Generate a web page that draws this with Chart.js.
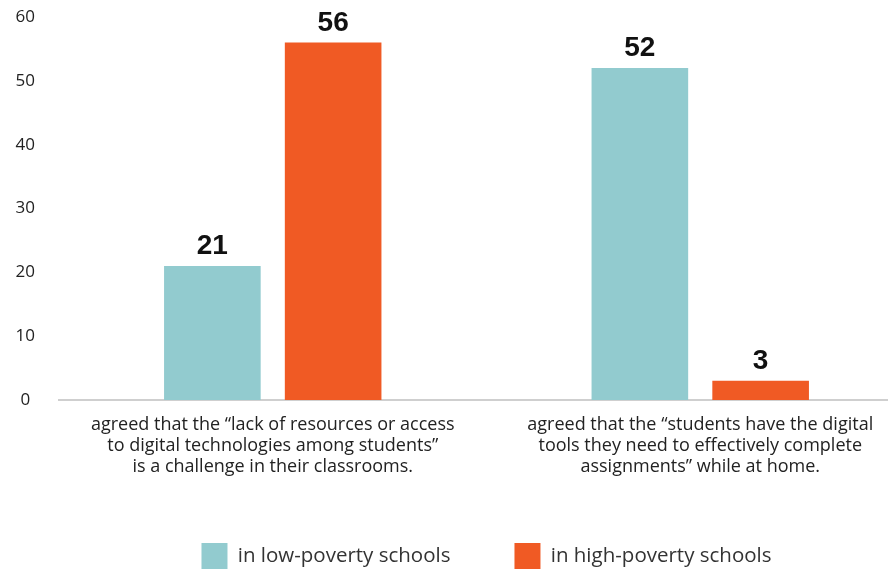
<!DOCTYPE html>
<html>
<head>
<meta charset="utf-8">
<script src="https://cdn.jsdelivr.net/npm/chart.js@4.4.0/dist/chart.umd.min.js"></script>
<style>
  html, body { margin: 0; padding: 0; background: #fff; }
  #wrap { width: 888px; height: 569px; overflow: hidden; position: relative; }
</style>
</head>
<body>
<div id="wrap"><canvas id="chart" width="914" height="579"></canvas></div>
<script>
// categories and values (percent of teachers)
var categories = [
  ['agreed that the \u201clack of resources or access', 'to digital technologies among students\u201d', 'is a challenge in their classrooms.'],
  ['agreed that the \u201cstudents have the digital', 'tools they need to effectively complete', 'assignments\u201d while at home.']
];
var seriesNames = ['in low-poverty schools', 'in high-poverty schools'];
var lowPoverty = [21, 52];
var highPoverty = [56, 3];
var yTicks = [0, 10, 20, 30, 40, 50, 60];

var teal = '#92cbcf';
var orange = '#f05a24';

// draws the bold number above every bar
var barValues = {
  id: 'barValues',
  afterDatasetsDraw: function(chart) {
    var ctx = chart.ctx;
    ctx.save();
    ctx.font = 'bold 28px "Liberation Sans", Arial, sans-serif';
    ctx.fillStyle = '#111';
    ctx.textAlign = 'center';
    ctx.textBaseline = 'alphabetic';
    chart.data.datasets.forEach(function(ds, i) {
      chart.getDatasetMeta(i).data.forEach(function(bar, j) {
        ctx.fillText(ds.data[j], bar.x, bar.y - 12);
      });
    });
    ctx.restore();
  }
};

var ctx = document.getElementById('chart');
var myChart = new Chart(ctx, {
  type: 'bar',
  data: {
    labels: categories,
    datasets: [{
      label: seriesNames[0],
      data: lowPoverty,
      backgroundColor: teal,
      barPercentage: 0.8,
      categoryPercentage: 0.565
    }, {
      label: seriesNames[1],
      data: highPoverty,
      backgroundColor: orange,
      barPercentage: 0.8,
      categoryPercentage: 0.565
    }]
  },
  options: {
    responsive: false,
    animation: false,
    devicePixelRatio: 1,
    layout: { padding: { left: 0, right: 0, top: 17, bottom: 0 } },
    plugins: {
      tooltip: { enabled: false },
      legend: {
        position: 'bottom',
        fullSize: false,
        labels: {
          boxWidth: 26,
          boxHeight: 26,
          padding: 64,
          color: '#333',
          font: { family: 'Open Sans', size: 20.5 }
        }
      }
    },
    scales: {
      x: {
        grid: { display: false, drawTicks: false },
        border: { display: true, color: '#cfcfcf', width: 2 },
        ticks: {
          color: '#222',
          padding: 14,
          maxRotation: 0,
          autoSkip: false,
          font: { family: 'Open Sans', size: 18, lineHeight: 1.17 }
        },
        afterFit: function(scale) { scale.height = 79; }
      },
      y: {
        min: 0,
        max: 60,
        grid: { display: false, drawTicks: false },
        border: { display: false },
        afterBuildTicks: function(scale) {
          scale.ticks = yTicks.map(function(v) { return { value: v }; });
        },
        afterFit: function(scale) {
          scale.width = 59;
          scale.paddingTop = 0;
          scale.paddingBottom = 0;
        },
        ticks: {
          color: '#222',
          padding: 24,
          crossAlign: 'center',
          font: { family: 'Open Sans', size: 17 }
        }
      }
    }
  },
  plugins: [barValues]
});
</script>
</body>
</html>
